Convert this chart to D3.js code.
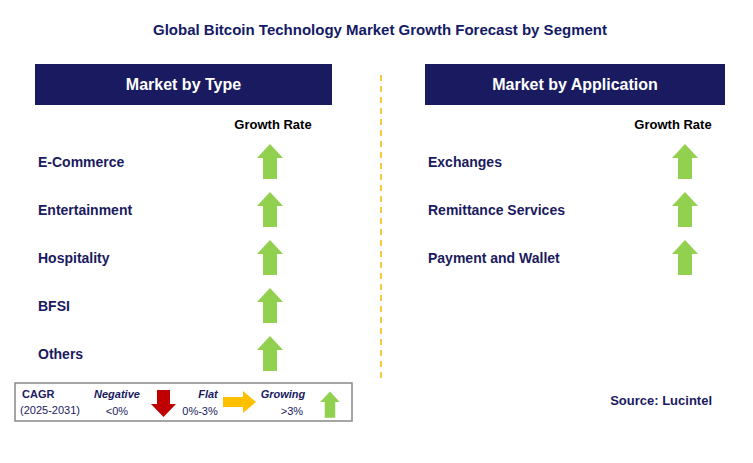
<!DOCTYPE html>
<html><head><meta charset="utf-8">
<script src="https://cdn.jsdelivr.net/npm/d3@7"></script>
<style>body{margin:0;background:#fff}</style></head>
<body><svg id="c" width="753" height="463"></svg>
<script>
const title = "Global Bitcoin Technology Market Growth Forecast by Segment";
const typeCats = ["E-Commerce","Entertainment","Hospitality","BFSI","Others"];
const typeTrend = ["up","up","up","up","up"];
const appCats = ["Exchanges","Remittance Services","Payment and Wallet"];
const appTrend = ["up","up","up"];
const panels = [{h:"Market by Type",cats:typeCats,trend:typeTrend,x0:35,x1:332,ax:270,gx:273},
                {h:"Market by Application",cats:appCats,trend:appTrend,x0:425,x1:725,ax:685,gx:673}];
const navy="#1a1a60", green="#92d050";
const svg=d3.select("#c"), F="Arial, Liberation Sans, sans-serif";
svg.append("text").attr("x",380).attr("y",35).attr("text-anchor","middle").attr("font-family",F)
 .attr("font-weight","bold").attr("font-size",15).attr("fill","#141a66").text(title);
svg.append("line").attr("x1",381).attr("x2",381).attr("y1",75).attr("y2",380)
 .attr("stroke","#f5b800").attr("stroke-width",1.5).attr("stroke-dasharray","6,5");
const y=d3.scalePoint().domain(d3.range(5)).range([162,354]);
function upArrow(g,cx,cy,col){
  const p=[[0,-18],[13,-4],[7,-4],[7,17],[-7,17],[-7,-4],[-13,-4]];
  return g.append("path").attr("d","M"+p.map(d=>[cx+d[0],cy+d[1]].join(",")).join("L")+"Z").attr("fill",col);
}
panels.forEach(P=>{
  svg.append("rect").attr("x",P.x0).attr("y",64).attr("width",P.x1-P.x0).attr("height",41).attr("fill",navy);
  svg.append("text").attr("x",(P.x0+P.x1)/2).attr("y",90).attr("text-anchor","middle").attr("font-family",F)
   .attr("font-weight","bold").attr("font-size",16).attr("fill","#fff").text(P.h);
  svg.append("text").attr("x",P.gx).attr("y",129).attr("text-anchor","middle").attr("font-family",F)
   .attr("font-weight","bold").attr("font-size",13).attr("fill","#000").text("Growth Rate");
  P.cats.forEach((c,i)=>{
    svg.append("text").attr("x",P.x0+3).attr("y",y(i)+5).attr("font-family",F).attr("font-weight","bold")
     .attr("font-size",14).attr("fill",navy).text(c);
    upArrow(svg,P.ax,y(i),green);
  });
});
svg.append("text").attr("x",712).attr("y",405).attr("text-anchor","end").attr("font-family",F)
 .attr("font-weight","bold").attr("font-size",13).attr("fill",navy).text("Source: Lucintel");
const L=svg.append("g");
L.append("rect").attr("x",15).attr("y",383).attr("width",337).attr("height",38).attr("fill","#fff").attr("stroke","#888").attr("stroke-width",1.5);
const lt=(x,y,t,o={})=>L.append("text").attr("x",x).attr("y",y).attr("font-family",F).attr("font-size",o.s||11)
 .attr("font-weight",o.b?"bold":"normal").attr("font-style",o.i?"italic":"normal").attr("fill",navy).attr("text-anchor",o.a||"start").text(t);
lt(22,398,"CAGR",{b:1});lt(20,414,"(2025-2031)");
lt(117,398,"Negative",{b:1,i:1,a:"middle"});lt(117,415,"<0%",{a:"middle"});
lt(208,398,"Flat",{b:1,i:1,a:"middle"});lt(200,415,"0%-3%",{a:"middle"});
lt(283,398,"Growing",{b:1,i:1,a:"middle"});lt(292,415,">3%",{a:"middle"});
L.append("path").attr("d","M157,390L170,390L170,404L176,404L163.5,417L151,404L157,404Z").attr("fill","#c00000");
L.append("path").attr("d","M223,397L243,397L243,391L256,402L243,413L243,407L223,407Z").attr("fill","#ffc000");
upArrow(L,330,405,green).attr("transform","translate(330,405) scale(0.75) translate(-330,-405)");
</script></body></html>
